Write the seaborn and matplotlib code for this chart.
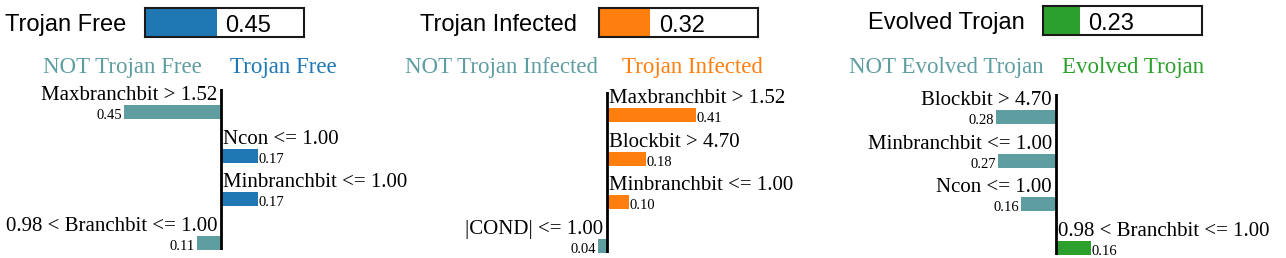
import matplotlib
matplotlib.use("Agg")
import matplotlib.pyplot as plt
import seaborn as sns
import pandas as pd

# class probabilities and colours
CLASSES = ["Trojan Free", "Trojan Infected", "Evolved Trojan"]
PROBS = [0.45, 0.32, 0.23]
CLASS_COLORS = ["#1f77b4", "#ff7f0e", "#2ca02c"]
NOT_COLOR = "#5F9EA0"

# per-class explanations (negative = towards NOT class)
FEATURES_FREE = ["Maxbranchbit > 1.52", "Ncon <= 1.00",
                 "Minbranchbit <= 1.00", "0.98 < Branchbit <= 1.00"]
WEIGHTS_FREE = [-0.45, 0.17, 0.17, -0.11]

FEATURES_INFECTED = ["Maxbranchbit > 1.52", "Blockbit > 4.70",
                     "Minbranchbit <= 1.00", "|COND| <= 1.00"]
WEIGHTS_INFECTED = [0.41, 0.18, 0.10, -0.04]

FEATURES_EVOLVED = ["Blockbit > 4.70", "Minbranchbit <= 1.00",
                    "Ncon <= 1.00", "0.98 < Branchbit <= 1.00"]
WEIGHTS_EVOLVED = [-0.28, -0.27, -0.16, 0.16]

W, H = 1286, 258
PX = 0.72          # points per pixel at dpi 100
SCALE = 216        # pixels per unit of weight
SERIF = "Liberation Serif"
SANS = "Liberation Sans"

fig = plt.figure(figsize=(W / 100, H / 100), dpi=100)


def px_axes(x0, y0, x1, y1):
    return fig.add_axes([x0 / W, 1 - y1 / H, (x1 - x0) / W, (y1 - y0) / H])


def px_text(x, y, s, **kw):
    fig.text(x / W, 1 - y / H, s, **kw)


# layout per panel: zero line x, vertical shift, title x, box x, header gaps
panels = [
    dict(zero=221, dy=0, title_x=5, box_x=145, box_dy=0, gap=(19, 9)),
    dict(zero=607, dy=3, title_x=420, box_x=599, box_dy=0, gap=(9, 15)),
    dict(zero=1056, dy=5, title_x=868, box_x=1043, box_dy=-2, gap=(12, 6)),
]
features = [FEATURES_FREE, FEATURES_INFECTED, FEATURES_EVOLVED]
weights = [WEIGHTS_FREE, WEIGHTS_INFECTED, WEIGHTS_EVOLVED]

ROW = 43.67
for k, lay in enumerate(panels):
    name, prob, color = CLASSES[k], PROBS[k], CLASS_COLORS[k]
    z, dy = lay["zero"], lay["dy"]

    # title + probability box
    px_text(lay["title_x"], 31 + lay["box_dy"], name, fontsize=17,
            family=SANS, va="baseline", ha="left")
    bax = px_axes(lay["box_x"], 8 + lay["box_dy"], lay["box_x"] + 159,
                  37 + lay["box_dy"])
    sns.barplot(x=[prob], y=["p"], orient="h", color=color, width=1.0,
                linewidth=0, saturation=1, ax=bax)
    bax.set_xlim(0, 1)
    bax.set_ylim(0.5, -0.5)
    bax.set_xticks([])
    bax.set_yticks([])
    bax.set_xlabel("")
    bax.set_ylabel("")
    for sp in bax.spines.values():
        sp.set_color("#1a1a1a")
        sp.set_linewidth(1.5)
    bax.annotate(f"{prob:.2f}", xy=(prob, 0.5), xytext=(9 * PX, 5 * PX),
                 textcoords="offset points", ha="left", va="baseline",
                 fontsize=17, family=SANS)

    # column headers
    px_text(z - lay["gap"][0], 73, f"NOT {name}", fontsize=16.5,
            family=SERIF, color=NOT_COLOR, ha="right", va="baseline")
    px_text(z + lay["gap"][1], 73, name, fontsize=16.5, family=SERIF,
            color=color, ha="left", va="baseline")

    # explanation bars
    df = pd.DataFrame({"feature": features[k], "weight": weights[k]})
    bar_colors = [color if w > 0 else NOT_COLOR for w in df["weight"]]
    top, bottom = 89 + dy, 250 + dy
    ax = px_axes(z - 230, top, z + 230, bottom)
    sns.barplot(data=df, x="weight", y="feature", hue="feature",
                palette=bar_colors, orient="h", width=0.32, linewidth=0,
                saturation=1, legend=False, ax=ax)
    ax.set_xlim(-230 / SCALE, 230 / SCALE)
    c0 = 112 + dy
    ax.set_ylim((bottom - c0) / ROW, (top - c0) / ROW)
    ax.axvline(0, color="black", lw=2.0)
    ax.set_axis_off()

    for i, (feat, w) in enumerate(zip(df["feature"], df["weight"])):
        if w < 0:
            ax.annotate(feat, xy=(0, i), xytext=(-4 * PX, 12 * PX),
                        textcoords="offset points", ha="right",
                        va="baseline", fontsize=15, family=SERIF,
                        annotation_clip=False)
            ax.annotate(f"{abs(w):.2f}", xy=(w, i + 0.16),
                        xytext=(-2 * PX, 0), textcoords="offset points",
                        ha="right", va="baseline", fontsize=10.5,
                        family=SERIF, annotation_clip=False)
        else:
            ax.annotate(feat, xy=(0, i), xytext=(2 * PX, 12 * PX),
                        textcoords="offset points", ha="left",
                        va="baseline", fontsize=15, family=SERIF,
                        annotation_clip=False)
            ax.annotate(f"{abs(w):.2f}", xy=(w, i + 0.16),
                        xytext=(1 * PX, 0), textcoords="offset points",
                        ha="left", va="baseline", fontsize=10.5,
                        family=SERIF, annotation_clip=False)

fig.savefig("out.png", dpi=100)
